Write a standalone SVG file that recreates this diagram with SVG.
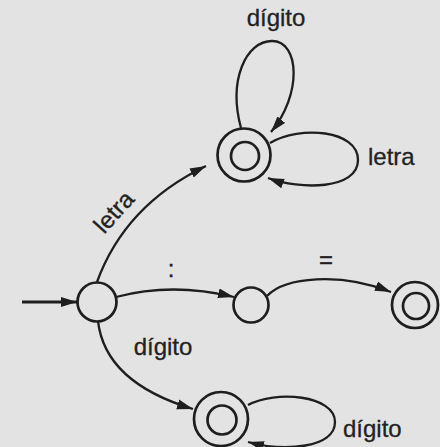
<svg xmlns="http://www.w3.org/2000/svg" width="440" height="447" viewBox="0 0 440 447">
  <style>
    .state { fill: none; stroke: #1e1e1e; stroke-width: 2.7; }
    .edge { fill: none; stroke: #1e1e1e; stroke-width: 2.3; marker-end: url(#arrow); }
    .label { font-family: "Liberation Sans", Arial, sans-serif; font-size: 24px; fill: #222; stroke: #222; stroke-width: 0.3; }
  </style>
  <defs>
    <marker id="arrow" markerUnits="userSpaceOnUse" markerWidth="18" markerHeight="12" refX="16" refY="5.5" orient="auto">
      <path d="M0,0.5 L16,5.5 L0,10.5 z" fill="#1e1e1e"/>
    </marker>
  </defs>

  <!-- page background -->
  <rect width="440" height="447" fill="#e3e3e3"/>

  <!-- connectors -->
  <g id="connectors">
    <line class="edge" x1="22" y1="302" x2="77" y2="302" style="stroke-width:3"/>
    <path class="edge" d="M97,282 Q125,205 206,166"/>
    <path class="edge" d="M116,297 Q172,282 234,297"/>
    <path class="edge" d="M267,296 C285,277 340,272 391,292"/>
    <path class="edge" d="M98,321 C103,365 140,393 193,409"/>
    <!-- self loops -->
    <path class="edge" d="M241,128 C228,80 246,41 272,41 C300,41 302,95 271,132"/>
    <path class="edge" d="M270,143 C300,125 358,130 358,160 C358,190 300,190 268,178"/>
    <path class="edge" d="M248,405 C275,390 335,395 335,422 C335,448 285,452 248,442"/>
  </g>

  <!-- edge labels -->
  <g id="edge-labels">
    <text class="label" x="276" y="26" text-anchor="middle">dígito</text>
    <text class="label" x="368" y="165">letra</text>
    <text class="label" transform="translate(114,212) rotate(-48)" x="0" y="8" text-anchor="middle">letra</text>
    <text class="label" x="171" y="277" text-anchor="middle">:</text>
    <text class="label" x="326" y="268" text-anchor="middle">=</text>
    <text class="label" x="163" y="355" text-anchor="middle">dígito</text>
    <text class="label" x="343" y="437">dígito</text>
  </g>

  <!-- states -->
  <g id="state-start">
    <circle class="state" cx="97" cy="302" r="19.5"/>
  </g>
  <g id="state-ident">
    <circle class="state" cx="244" cy="155" r="26.5"/>
    <circle class="state" cx="245" cy="156" r="14"/>
  </g>
  <g id="state-colon">
    <circle class="state" cx="251" cy="305" r="17.5"/>
  </g>
  <g id="state-assign">
    <circle class="state" cx="415" cy="305" r="23"/>
    <circle class="state" cx="416" cy="306" r="13"/>
  </g>
  <g id="state-number">
    <circle class="state" cx="221" cy="419" r="27"/>
    <circle class="state" cx="222" cy="420" r="14.5"/>
  </g>
</svg>
